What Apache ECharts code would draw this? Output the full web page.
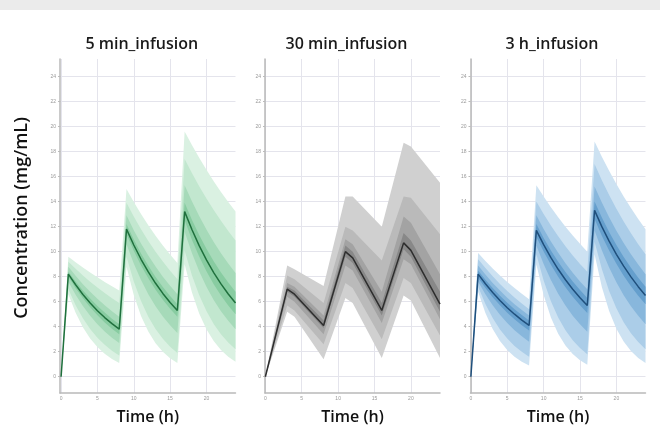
<!DOCTYPE html>
<html>
<head>
<meta charset="utf-8">
<script src="https://cdn.jsdelivr.net/npm/echarts@6/dist/echarts.min.js"></script>
<style>html,body{margin:0;padding:0;background:#fff;}#c{width:660px;height:427px;}</style>
</head>
<body>
<div id="c"></div>
<script>
// ---- Data ----
const PANEL_TITLES = ['5 min_infusion', '30 min_infusion', '3 h_infusion'];
const Y_TITLE = 'Concentration (mg/mL)';
const X_TITLE = 'Time (h)';
const Y_TICKS = [0, 2, 4, 6, 8, 10, 12, 14, 16, 18, 20, 22, 24];
const X_TICKS = [0, 5, 10, 15, 20];

const T_HOURLY = [0,1,2,3,4,5,6,7,8,9,10,11,12,13,14,15,16,17,18,19,20,21,22,23,24];
const T_30MIN = [0, 3, 4, 8, 11, 12, 16, 19, 20, 24];

// 5 min infusion (green)
const G_MED = [0, 8.2,7.35,6.58,5.9,5.28,4.73,4.24,3.8, 11.8,10.53,9.39,8.38,7.47,6.66,5.94,5.3, 13.2,11.77,10.48,9.34,8.33,7.42,6.61,5.9];
const G_U1 = [0, 9.6,9.16,8.74,8.33,7.95,7.58,7.23,6.9, 15.0,13.97,13.0,12.1,11.27,10.5,9.77,9.1, 19.6,18.52,17.5,16.54,15.63,14.77,13.96,13.2];
const G_L1 = [0, 6.6,5.11,3.96,3.06,2.37,1.84,1.42,1.1, 8.8,6.54,4.86,3.61,2.68,1.99,1.48,1.1, 9.0,6.75,5.06,3.8,2.85,2.14,1.6,1.2];
const G_U2 = [0, 9.2,8.63,8.1,7.6,7.13,6.69,6.28,5.9, 13.9,12.8,11.79,10.86,10.0,9.21,8.48,7.8, 17.4,16.28,15.23,14.24,13.32,12.46,11.65,10.9];
const G_L2 = [0, 7.0,5.72,4.67,3.82,3.12,2.55,2.08,1.7, 9.6,7.62,6.05,4.8,3.81,3.03,2.4,1.9, 10.1,8.12,6.53,5.25,4.22,3.39,2.73,2.2];
const G_U3 = [0, 8.8,8.07,7.4,6.79,6.23,5.71,5.24,4.8, 12.9,11.72,10.66,9.69,8.81,8.0,7.27,6.6, 15.3,14.02,12.85,11.77,10.78,9.88,9.05,8.3];
const G_L3 = [0, 7.6,6.55,5.65,4.87,4.2,3.62,3.12,2.7, 10.6,9.05,7.73,6.6,5.64,4.82,4.11,3.5, 11.6,9.9,8.44,7.2,6.14,5.24,4.47,3.8];
const G_U4 = [0, 8.4,7.61,6.9,6.25,5.66,5.13,4.64,4.2, 12.2,10.97,9.86,8.87,7.97,7.17,6.45,5.8, 13.9,12.55,11.33,10.23,9.24,8.34,7.53,6.8];
const G_L4 = [0, 8.0,7.08,6.27,5.55,4.91,4.34,3.84,3.4, 11.4,10.07,8.9,7.87,6.96,6.15,5.43,4.8, 12.5,10.96,9.62,8.44,7.4,6.49,5.7,5.0];

// 30 min infusion (grey)
const K_MED = [0, 7.0, 6.6, 4.1, 10.0, 9.5, 5.3, 10.7, 10.1, 5.8];
const K_U1 = [0, 8.9, 8.6, 7.25, 14.4, 14.4, 12.0, 18.7, 18.4, 15.5];
const K_L1 = [0, 5.2, 4.8, 1.4, 6.3, 5.9, 1.5, 6.5, 6.1, 1.5];
const K_U2 = [0, 8.1, 7.8, 5.9, 12.0, 11.7, 9.3, 14.4, 14.3, 11.4];
const K_L2 = [0, 5.7, 5.3, 2.6, 7.5, 7.1, 3.0, 7.9, 7.5, 3.3];
const K_U3 = [0, 7.5, 7.2, 4.9, 11.0, 10.6, 6.8, 12.8, 12.3, 8.2];
const K_L3 = [0, 6.4, 6.0, 3.4, 8.9, 8.5, 4.3, 9.4, 9.0, 4.6];
const K_U4 = [0, 7.2, 6.9, 4.5, 10.5, 10.0, 5.9, 11.5, 10.9, 6.8];
const K_L4 = [0, 6.8, 6.4, 3.9, 9.6, 9.1, 4.9, 10.2, 9.6, 5.2];

// 3 h infusion (blue)
const B_MED = [0, 8.2,7.43,6.73,6.1,5.52,5.0,4.53,4.1, 11.7,10.56,9.52,8.59,7.75,6.99,6.31,5.7, 13.3,12.0,10.84,9.79,8.84,7.98,7.2,6.5];
const B_U1 = [0, 9.9,9.26,8.66,8.1,7.58,7.09,6.63,6.2, 15.3,14.4,13.55,12.75,12.0,11.29,10.63,10.0, 18.8,17.59,16.46,15.4,14.41,13.48,12.61,11.8];
const B_L1 = [0, 6.8,5.09,3.82,2.86,2.14,1.6,1.2,0.9, 9.0,6.53,4.73,3.43,2.49,1.81,1.31,0.95, 9.8,7.17,5.25,3.84,2.81,2.06,1.5,1.1];
const B_U2 = [0, 9.4,8.69,8.03,7.42,6.86,6.34,5.85,5.4, 14.0,13.01,12.09,11.23,10.44,9.7,9.02,8.4, 17.0,15.71,14.52,13.42,12.41,11.47,10.6,9.8];
const B_L2 = [0, 7.2,5.81,4.69,3.78,3.05,2.46,1.99,1.6, 9.8,7.69,6.04,4.74,3.72,2.92,2.29,1.8, 10.8,8.61,6.86,5.47,4.36,3.47,2.77,2.2];
const B_U3 = [0, 8.9,8.17,7.5,6.89,6.32,5.8,5.33,4.9, 12.9,11.82,10.82,9.91,9.08,8.32,7.62,7.0, 15.2,13.92,12.75,11.68,10.7,9.8,8.97,8.2];
const B_L3 = [0, 7.6,6.59,5.71,4.95,4.29,3.72,3.23,2.8, 10.5,9.01,7.73,6.63,5.69,4.88,4.19,3.6, 11.7,10.11,8.73,7.55,6.52,5.63,4.87,4.2];
const B_U4 = [0, 8.5,7.76,7.09,6.47,5.91,5.39,4.93,4.5, 12.2,11.1,10.1,9.19,8.37,7.61,6.93,6.3, 14.0,12.73,11.58,10.53,9.58,8.71,7.92,7.2];
const B_L4 = [0, 7.9,7.09,6.36,5.71,5.12,4.6,4.12,3.7, 11.2,10.01,8.95,8.0,7.15,6.39,5.71,5.1, 12.6,11.28,10.09,9.03,8.08,7.23,6.48,5.8];

// ---- Build ----
const panels = [
  { title: PANEL_TITLES[0], t: T_HOURLY, med: G_MED,
    bands: [[G_L1, G_U1], [G_L2, G_U2], [G_L3, G_U3], [G_L4, G_U4]],
    colors: ['#daf1e2', '#c2e7cf', '#a6dab9', '#88cca1'], line: '#1f703d',
    grid: { left: 60, width: 175.5 }, xmin: -0.15 },
  { title: PANEL_TITLES[1], t: T_30MIN, med: K_MED,
    bands: [[K_L1, K_U1], [K_L2, K_U2], [K_L3, K_U3], [K_L4, K_U4]],
    colors: ['#d0d0d0', '#bababa', '#a3a3a3', '#888888'], line: '#2e2e2e',
    grid: { left: 265, width: 175 }, xmin: -0.05 },
  { title: PANEL_TITLES[2], t: T_HOURLY, med: B_MED,
    bands: [[B_L1, B_U1], [B_L2, B_U2], [B_L3, B_U3], [B_L4, B_U4]],
    colors: ['#cde2f2', '#abcde8', '#88b7dc', '#659fcd'], line: '#1f4f7c',
    grid: { left: 470.5, width: 175 }, xmin: -0.05 }
];

const FONT = '"Open Sans", "Noto Sans", sans-serif';
const grid = [], xAxis = [], yAxis = [], series = [], graphic = [];

graphic.push({ type: 'rect', shape: { x: 0, y: 0, width: 660, height: 10 }, style: { fill: '#ebebeb' }, silent: true });

panels.forEach((p, i) => {
  grid.push({ left: p.grid.left, width: p.grid.width, top: 59, height: 334,
    outerBoundsMode: 'none', containLabel: false });
  xAxis.push({
    type: 'value', gridIndex: i, min: p.xmin, max: 24,
    name: X_TITLE, nameLocation: 'middle', nameGap: 16,
    nameTextStyle: { fontSize: 16, color: '#111', fontFamily: FONT, fontWeight: 600 },
    axisLine: { show: true, onZero: false, lineStyle: { color: '#b9b9b9', width: 1.5 } },
    axisTick: { show: false, customValues: X_TICKS },
    axisLabel: { customValues: X_TICKS, fontSize: 5, color: '#999', margin: 3 },
    splitLine: { show: true, lineStyle: { color: '#e4e4ec', width: 1 } }
  });
  yAxis.push({
    type: 'value', gridIndex: i, min: -1.3, max: 25.4,
    axisLine: { show: true, onZero: false, lineStyle: { color: '#b9b9b9', width: 1.5 } },
    axisTick: { show: true, customValues: Y_TICKS, length: 2, lineStyle: { color: '#bbb' } },
    axisLabel: { customValues: Y_TICKS, fontSize: 5, color: '#999', margin: 4 },
    splitLine: { show: true, lineStyle: { color: '#e4e4ec', width: 1 } }
  });
  series.push({
    type: 'custom', xAxisIndex: i, yAxisIndex: i, silent: true,
    data: p.bands.map((_, k) => [k, k]),
    encode: { x: 0, y: 1 },
    renderItem: function (params, api) {
      const k = params.dataIndex;
      const lo = p.bands[k][0], hi = p.bands[k][1];
      const pts = [];
      for (let j = 0; j < p.t.length; j++) pts.push(api.coord([p.t[j], hi[j]]));
      for (let j = p.t.length - 1; j >= 0; j--) pts.push(api.coord([p.t[j], lo[j]]));
      return { type: 'polygon', shape: { points: pts }, style: { fill: p.colors[k], stroke: null } };
    },
    z: 2
  });
  series.push({
    type: 'line', xAxisIndex: i, yAxisIndex: i, silent: true,
    data: p.t.map((t, j) => [t, p.med[j]]),
    symbol: 'none', lineStyle: { color: p.line, width: 1.5 }, z: 3
  });
  const cx = p.grid.left + p.grid.width / 2;
  graphic.push({ type: 'text', x: cx - 6, y: 44, silent: true,
    style: { text: p.title, align: 'center', verticalAlign: 'middle', fill: '#1a1a1a',
      font: '600 16px ' + FONT } });
});

graphic.push({ type: 'text', x: 22, y: 218, rotation: Math.PI / 2, silent: true,
  style: { text: Y_TITLE, align: 'center', verticalAlign: 'middle', fill: '#111',
    font: '600 18px ' + FONT } });

const chart = echarts.init(document.getElementById('c'), null, { renderer: 'canvas' });
chart.setOption({
  animation: false,
  backgroundColor: '#fff',
  grid, xAxis, yAxis, series, graphic
});
</script>
</body>
</html>
